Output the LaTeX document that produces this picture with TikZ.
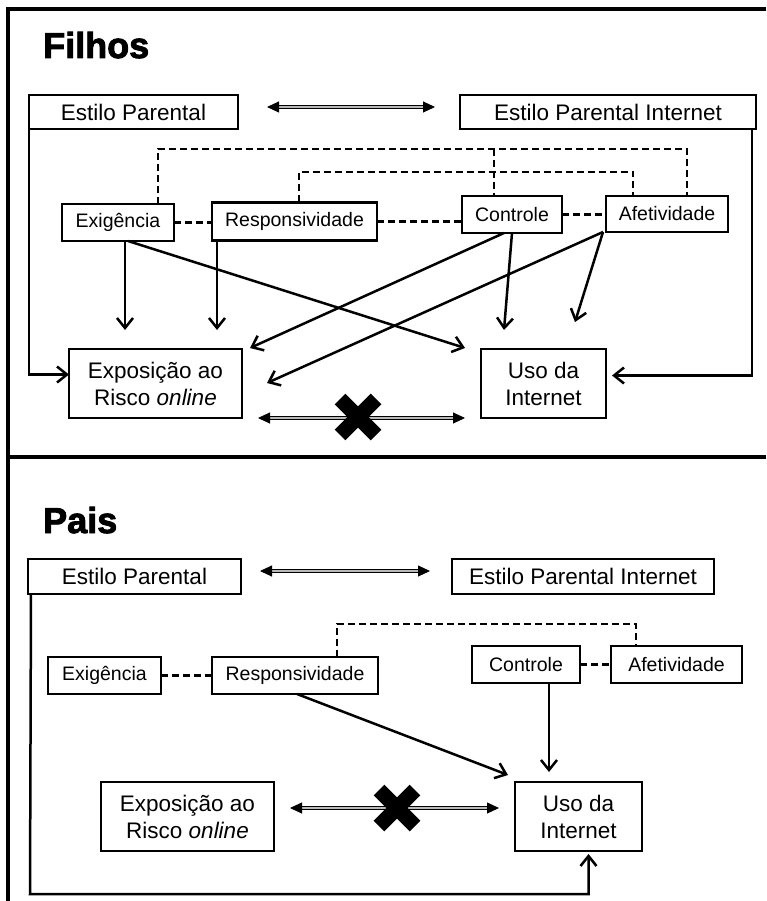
\documentclass[tikz,border=0pt]{standalone}
\usepackage{fontspec}
\setmainfont{Liberation Sans}
\newfontfamily\titlefont{Liberation Sans Bold}[FakeBold=2.5]
\usetikzlibrary{arrows.meta}

\begin{document}
\begin{tikzpicture}[x=1pt,y=-1pt,
  box/.style={draw, line width=2.8pt, inner sep=0pt, outer sep=0pt, align=center},
  big/.style={box, font=\fontsize{22.5}{27}\selectfont},
  small/.style={box, font=\fontsize{19.5}{23}\selectfont},
  ttl/.style={font=\titlefont\fontsize{36}{40}\selectfont, anchor=base west, inner sep=0pt},
  arr/.style={line width=2.5pt, -{Straight Barb[length=10pt,width=16pt]}},
  dsh/.style={line width=2.6pt, dash pattern=on 7pt off 4pt},
  dbl/.style={line width=0.9pt, double=gray!55, double distance=1.8pt,
    {Triangle[length=12pt,width=11pt]}-{Triangle[length=12pt,width=11pt]}},
  cross/.style={line width=15pt},
  frame/.style={line width=3.5pt}]

\useasboundingbox (0,0) rectangle (766,901);

% frame
\draw [frame] (766,9)--(8,9)--(8,901);
\draw [frame] (8,457)--(766,457);

% Filhos
\node [ttl] (filhos) at (43,58) {Filhos};

\node [big, minimum width=209pt, minimum height=34pt] (ep1) at (133.5,112) {Estilo Parental};
\node [big, minimum width=296pt, minimum height=34pt] (epi1) at (608,112) {Estilo Parental Internet};

\node [small, minimum width=112pt, minimum height=37pt] (ex1) at (118,222.5) {Exigência};
\node [small, minimum width=165pt, minimum height=38pt] (re1) at (294.5,221.5) {Responsividade};
\node [small, minimum width=100pt, minimum height=37pt] (co1) at (512,214.5) {Controle};
\node [small, minimum width=122pt, minimum height=36pt] (af1) at (667,214) {Afetividade};

\node [big, minimum width=173pt, minimum height=69pt] (expo1) at (155.5,383.5) {Exposição ao\\Risco \textit{online}};
\node [big, minimum width=125pt, minimum height=69pt] (uso1) at (543.5,383.5) {Uso da\\Internet};

\draw [dbl] ([xshift=29pt,yshift=5pt]ep1.east)--([xshift=-25pt,yshift=5pt]epi1.west);

\coordinate (v1) at (158,149);
\coordinate (v2) at (687,149);
\coordinate (v3) at (494,149);
\coordinate (w1) at (299,172);
\coordinate (w2) at (633,172);
\draw [dsh] (ex1.north -| v1)--(v1)--(v2)--(af1.north -| v2);
\draw [dsh] (v3)--(co1.north -| v3);
\draw [dsh] (re1.north -| w1)--(w1)--(w2)--(af1.north -| w2);
\draw [dsh] (ex1.east)--(re1.west |- ex1.east);
\draw [dsh] (re1.east)--(co1.west |- re1.east);
\draw [dsh] (co1.east)--(af1.west |- co1.east);

\coordinate (t1) at (125,330);
\coordinate (t2) at (217,330);
\coordinate (t3) at (465,348);
\coordinate (t4) at (250,348);
\coordinate (t5) at (504,330);
\coordinate (t6) at (267,383);
\coordinate (t7) at (575,322);
\draw [arr] (ex1.south -| t1)--(t1);
\draw [arr] (re1.south -| t2)--(t2);
\draw [arr] ([xshift=10pt]ex1.south)--(t3);
\draw [arr] ([xshift=-8pt]co1.south)--(t4);
\draw [arr] (co1.south)--(t5);
\draw [arr] ([xshift=-3pt]af1.south west)--(t6);
\draw [arr] ([xshift=-3pt]af1.south west)--(t7);

\draw [arr] (ep1.south west) |- ([yshift=9pt]expo1.west);
\draw [arr] ([xshift=-4pt]epi1.south east) |- ([xshift=6pt,yshift=8pt]uso1.east);

\draw [dbl] ([xshift=16pt]expo1.south east)--([xshift=-16pt]uso1.south west);
\coordinate (x1) at (358,417);
\draw [cross] ([shift={(-18,-18)}]x1)--([shift={(18,18)}]x1);
\draw [cross] ([shift={(-18,18)}]x1)--([shift={(18,-18)}]x1);

% Pais
\node [ttl] (pais) at (43,533) {Pais};

\node [big, minimum width=213pt, minimum height=35pt] (ep2) at (134.5,576.5) {Estilo Parental};
\node [big, minimum width=262pt, minimum height=35pt] (epi2) at (583,576.5) {Estilo Parental Internet};

\node [small, minimum width=113pt, minimum height=37pt] (ex2) at (104.5,675.5) {Exigência};
\node [small, minimum width=166pt, minimum height=37pt] (re2) at (295,675.5) {Responsividade};
\node [small, minimum width=108pt, minimum height=37pt] (co2) at (526,664.5) {Controle};
\node [small, minimum width=131pt, minimum height=37pt] (af2) at (676.5,664.5) {Afetividade};

\node [big, minimum width=173pt, minimum height=69pt] (expo2) at (187.5,816.5) {Exposição ao\\Risco \textit{online}};
\node [big, minimum width=127pt, minimum height=69pt] (uso2) at (578.5,816.5) {Uso da\\Internet};

\draw [dbl] ([xshift=19pt,yshift=5.5pt]ep2.east)--([xshift=-22pt,yshift=5.5pt]epi2.west);

\coordinate (w3) at (337,624);
\coordinate (w4) at (636,624);
\draw [dsh] (ex2.east)--(re2.west |- ex2.east);
\draw [dsh] (re2.north -| w3)--(w3)--(w4)--(af2.north -| w4);
\draw [dsh] (co2.east)--(af2.west |- co2.east);

\coordinate (t8) at (508,775);
\coordinate (t9) at (549,772);
\draw [arr] ([xshift=2pt]re2.south)--(t8);
\draw [arr] (co2.south -| t9)--(t9);

\coordinate (b1) at (30,894);
\draw [arr] ([xshift=3pt]ep2.south west)--(b1) -| ([xshift=10pt,yshift=-3pt]uso2.south);

\draw [dbl] ([xshift=16pt,yshift=8.5pt]expo2.east)--([xshift=-16pt,yshift=8.5pt]uso2.west);
\coordinate (x2) at (397,808);
\draw [cross] ([shift={(-18,-18)}]x2)--([shift={(18,18)}]x2);
\draw [cross] ([shift={(-18,18)}]x2)--([shift={(18,-18)}]x2);

\end{tikzpicture}
\end{document}
